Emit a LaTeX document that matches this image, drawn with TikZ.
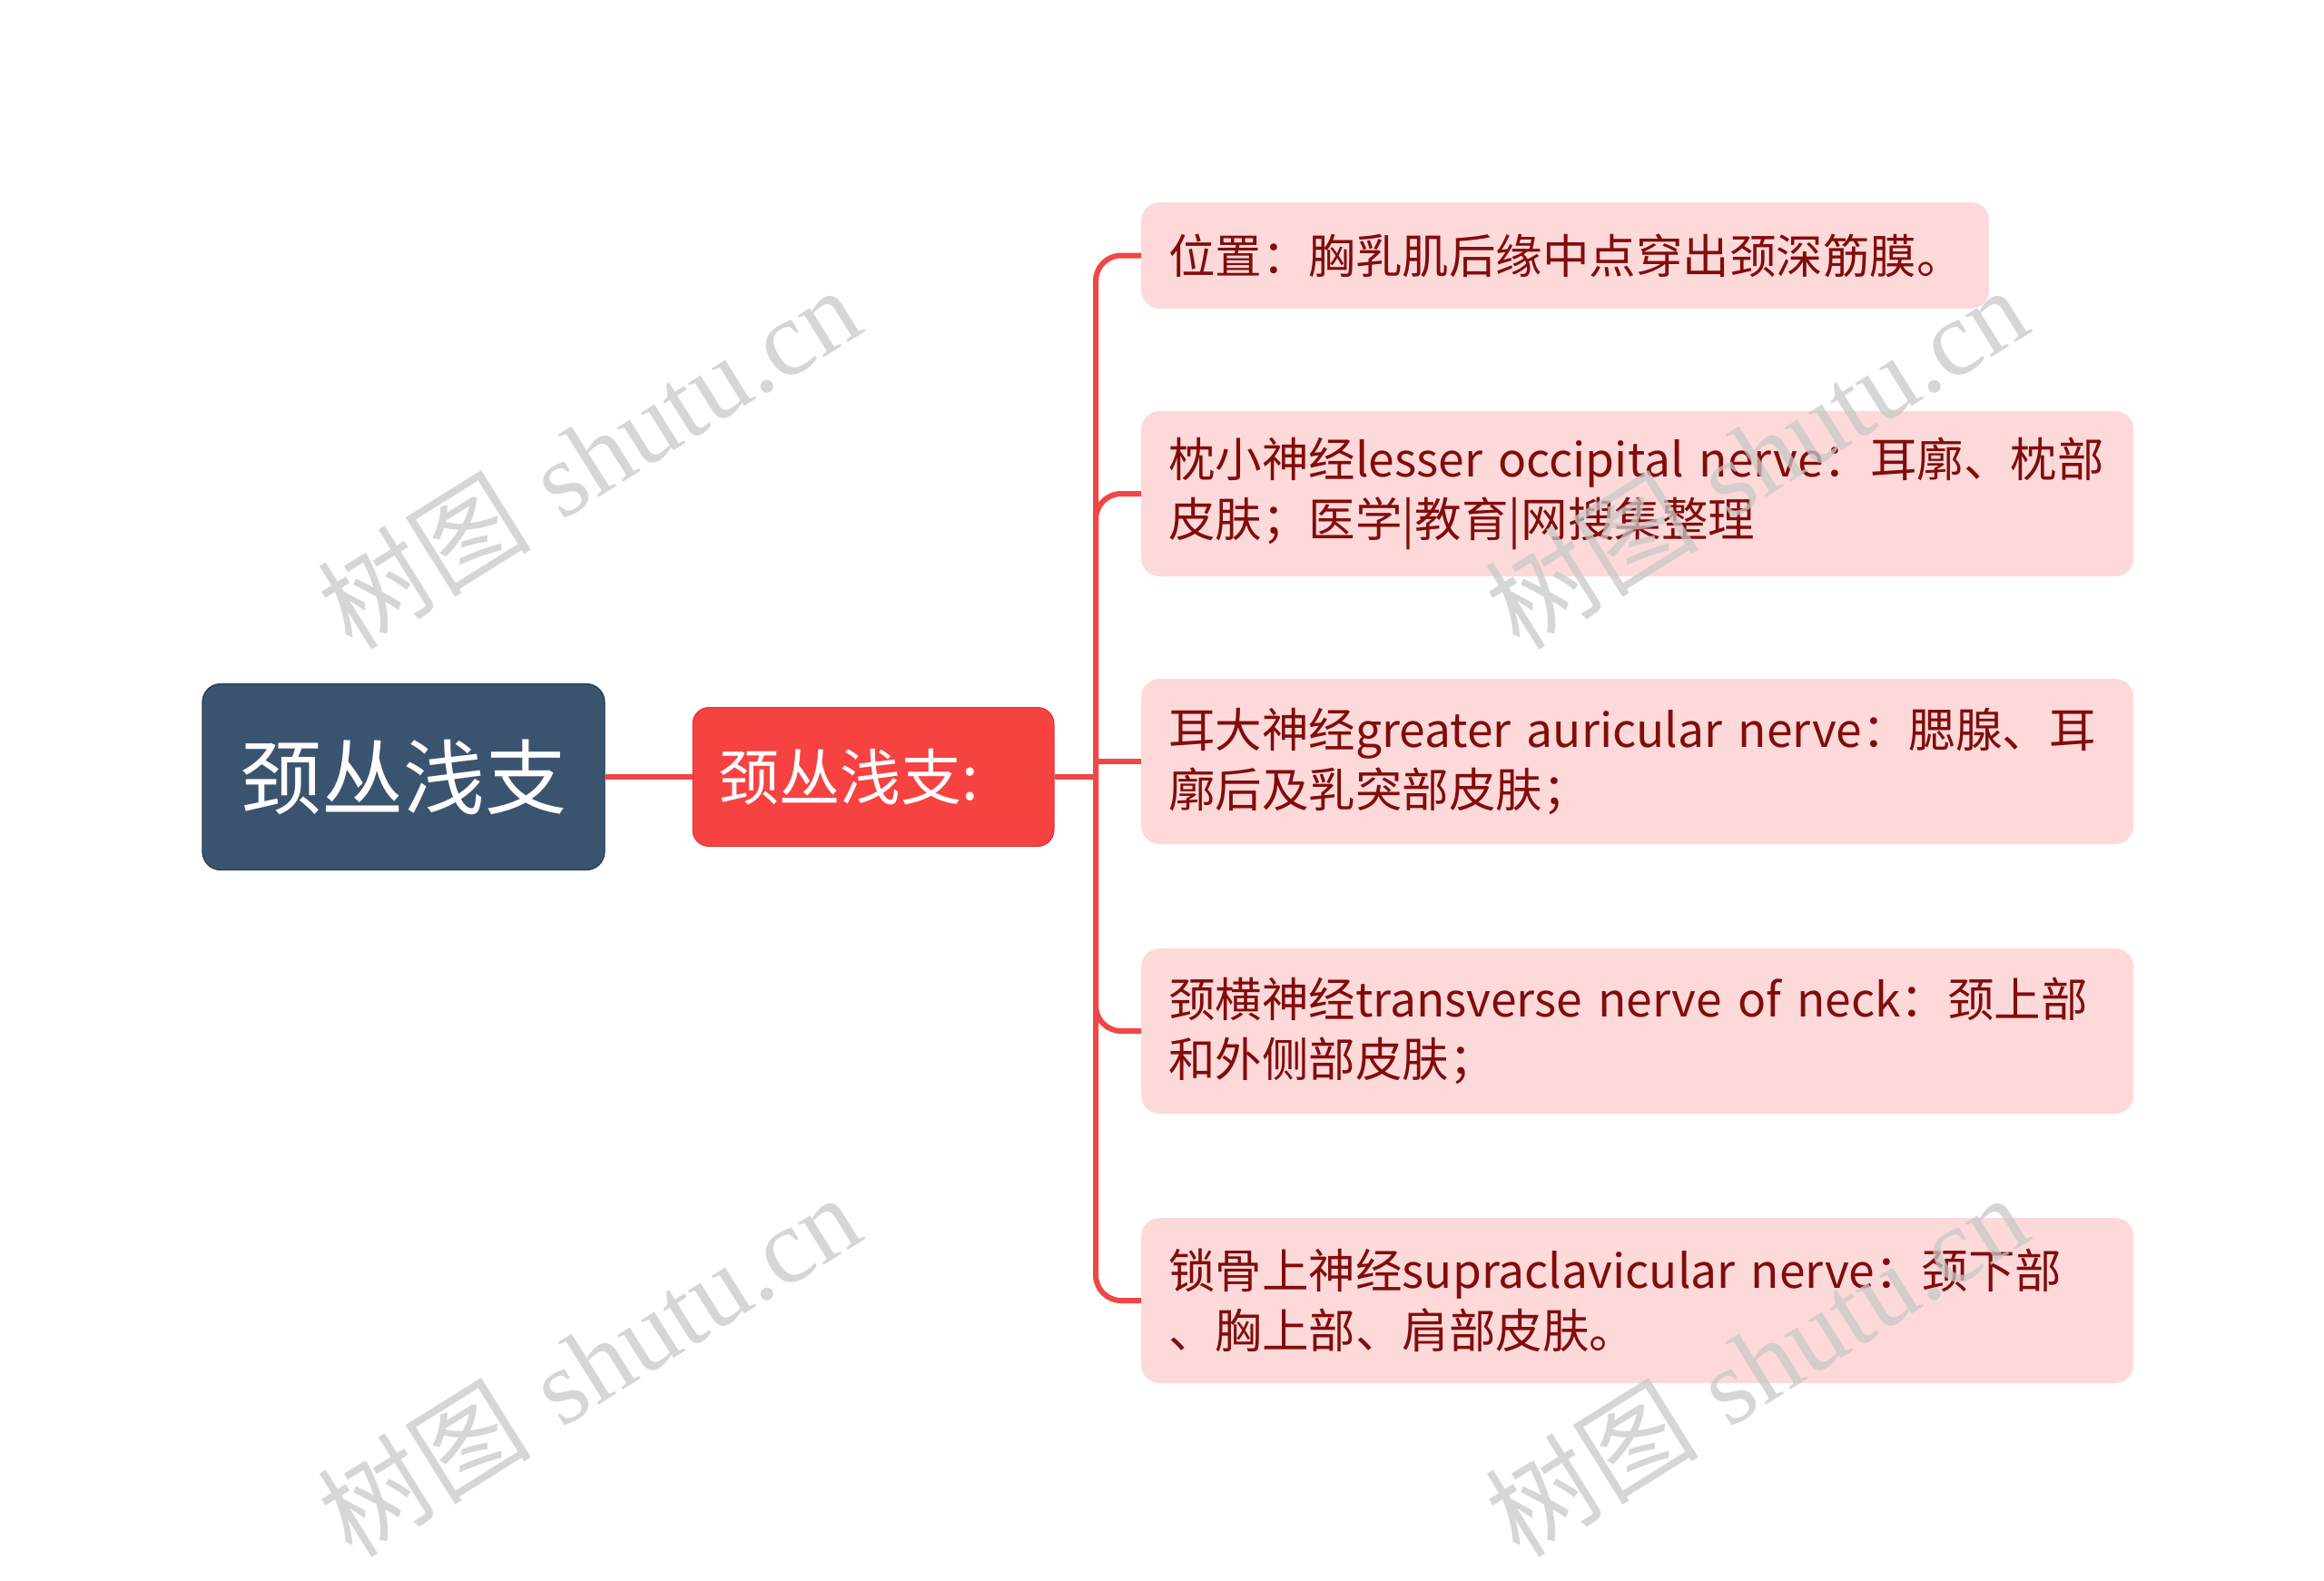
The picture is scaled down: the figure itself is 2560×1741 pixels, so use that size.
\documentclass[tikz,border=0pt]{standalone}
\usepackage{fontspec}
\newfontfamily\cjk{Noto Sans CJK SC}
\newfontfamily\wmlatin{Liberation Serif}
\definecolor{rootblue}{RGB}{58,84,112}
\definecolor{rootborder}{RGB}{40,60,82}
\definecolor{subred}{RGB}{247,66,66}
\definecolor{leafpink}{RGB}{253,217,217}
\definecolor{leaftext}{RGB}{130,12,12}
\definecolor{linkred}{RGB}{240,70,70}
\definecolor{wmgray}{RGB}{200,200,200}
\begin{document}
\begin{tikzpicture}[x=1pt,y=-1pt,
  rootbox/.style={rectangle, rounded corners=20pt, fill=rootblue, draw=rootborder, line width=1.2pt,
    minimum width=443pt, minimum height=205pt, inner sep=0pt, text=white,
    font=\cjk\fontsize{90}{100}\selectfont},
  subbox/.style={rectangle, rounded corners=18pt, fill=subred, draw=subred!85!black, line width=1pt,
    minimum height=153pt, text width=342pt, inner xsep=28pt, inner ysep=0pt, align=left, text=white,
    font=\cjk\fontsize{67}{72}\selectfont},
  leafbox/.style={rectangle, rounded corners=20pt, fill=leafpink, anchor=west,
    inner xsep=30pt, inner ysep=0pt, align=left, text=leaftext,
    font=\cjk\fontsize{51.5}{66}\selectfont},
  link/.style={draw=linkred, line width=6pt},
  wm/.style={text=wmgray, opacity=0.75, rotate=32, inner sep=0pt,
    font=\fontsize{118}{124}\selectfont}
]
\useasboundingbox (0,0) rectangle (2560,1741);

\node[rootbox] (root) at (444.5,856) {颈丛浅支};
\node[subbox] (sub) at (962,856) {颈丛浅支:};

\node[leafbox, text width=874pt, minimum height=117pt] (l1) at (1257,281.5) {\mbox{位置：胸乳肌后缘中点穿出颈深筋膜。}};
\node[leafbox, text width=1033pt, minimum height=182pt] (l2) at (1257,544) {\mbox{枕小神经lesser occipital nerve：耳廓、枕部}\\\mbox{皮肤；医学|教育|网搜集整理}};
\node[leafbox, text width=1033pt, minimum height=182pt] (l3) at (1257,839) {\mbox{耳大神经greater auricular nerve：腮腺、耳}\\\mbox{廓后及乳突部皮肤；}};
\node[leafbox, text width=1033pt, minimum height=182pt] (l4) at (1257,1136) {\mbox{颈横神经transverse nerve of neck：颈上部}\\\mbox{和外侧部皮肤；}};
\node[leafbox, text width=1033pt, minimum height=182pt] (l5) at (1257,1433) {\mbox{锁骨上神经supraclavicular nerve：颈下部}\\\mbox{、胸上部、肩部皮肤。}};

\coordinate (trunk) at (1207,856);

\draw[link] (root.east) -- (sub.west);
\draw[link] (sub.east) -- (trunk);
\foreach \n in {l1,l2,l4,l5}
  \draw[link, rounded corners=28pt] (trunk) |- (\n.west);
\draw[link] (trunk |- l3.west) -- (l3.west);

\foreach \cx/\cy [count=\i] in {648/503, 1934/503, 648/1503, 1934/1503}
  \node[wm] (wm\i) at (\cx,\cy) {{\cjk 树图} {\wmlatin shutu.cn}};
\end{tikzpicture}
\end{document}
